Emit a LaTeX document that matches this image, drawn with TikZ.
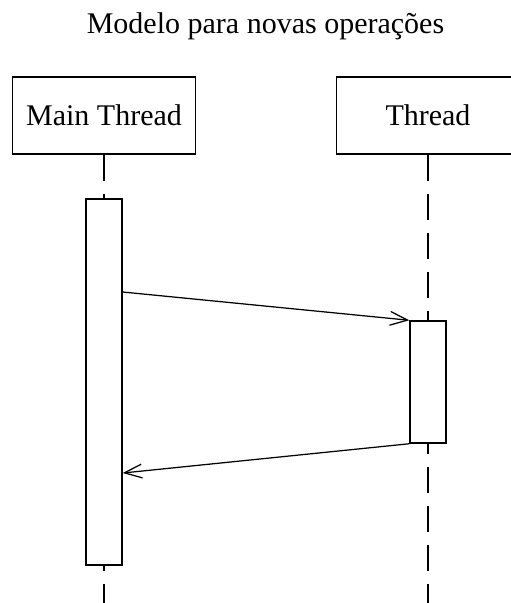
\documentclass[tikz,border=0pt]{standalone}
\usepackage{fontspec}
\setmainfont{Liberation Serif}
\usetikzlibrary{arrows.meta}

\begin{document}
\begin{tikzpicture}[x=0.4pt,y=-0.4pt,
    actor/.style={rectangle,draw,line width=0.6pt,minimum width=73.2pt,minimum height=30.8pt,inner sep=0pt,font=\fontsize{12}{14}\selectfont},
    activation/.style={rectangle,draw,fill=white,line width=0.6pt,minimum width=14.4pt,inner sep=0pt},
    lifeline/.style={line width=0.6pt,dash pattern=on 10.4pt off 5.2pt},
    message/.style={-{Straight Barb[length=7pt,width=5.5pt]},line width=0.5pt}
]
\useasboundingbox (0,0) rectangle (511,603);
\clip (0,0) rectangle (511,603);

\node[font=\fontsize{12}{14}\selectfont,anchor=base] (title) at (265.5,33) {Modelo para novas operações};

% Actors
\node[actor] (main-thread) at (104,115.5) {Main Thread};
\node[actor] (thread) at (428,115.5) {Thread};

% Lifelines
\coordinate (main-end) at (104,615);
\coordinate (thread-end) at (428,615);
\draw[lifeline] (main-thread.south) -- (main-end);
\draw[lifeline] (thread.south) -- (thread-end);

% Activations
\node[activation,minimum height=146.4pt] (main-act) at (104,382) {};
\node[activation,minimum height=48.8pt] (thread-act) at (428,382) {};

% Messages
\draw[message] ([yshift=36pt]main-act.east) -- (thread-act.north west);
\draw[message] (thread-act.south west) -- ([yshift=-36.4pt]main-act.east);

\end{tikzpicture}
\end{document}
